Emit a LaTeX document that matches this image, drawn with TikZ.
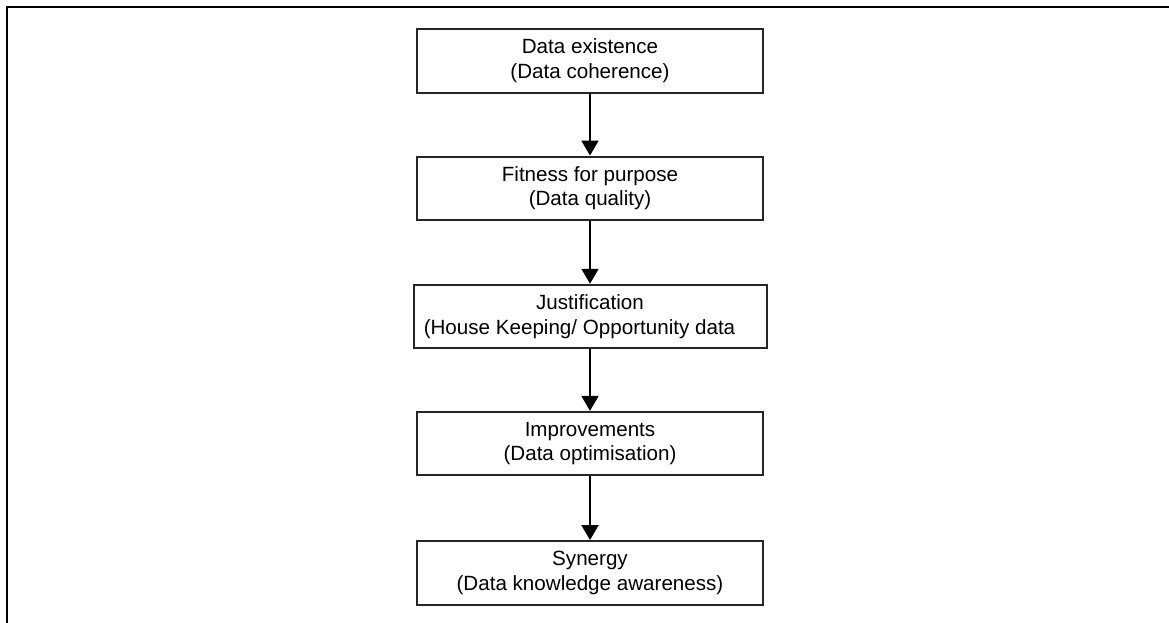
\documentclass[tikz,border=0pt]{standalone}
\usepackage{fontspec}
\setmainfont{Liberation Sans}
\usetikzlibrary{arrows.meta}
\begin{document}
\begin{tikzpicture}[x=1pt,y=-1pt,
  stage/.style={draw=black!85, line width=2pt, minimum width=346pt,
    minimum height=63.5pt, align=center, inner sep=0pt,
    font=\fontsize{20.6}{24.5}\selectfont},
  flow/.style={line width=2pt, -{Triangle[length=15pt,width=17pt]}}]
\useasboundingbox (0,0) rectangle (1169,623);
% open frame: left and top edges only
\draw[line width=2.2pt] (7,623) -- (7,7) -- (1169,7);
% the five stages
\node[stage] (s1) at (590,60.8) {Data existence\\(Data coherence)};
\node[stage] (s2) at (590,188.3) {Fitness for purpose\\(Data quality)};
\node[stage, minimum width=353pt] (s3) at (590,316.5)
  {Justification\\(House Keeping/ Opportunity data\hspace*{21pt}};
\node[stage] (s4) at (590,443.6) {Improvements\\(Data optimisation)};
\node[stage] (s5) at (590,572.8) {Synergy\\(Data knowledge awareness)};
% connectors
\draw[flow] (s1) -- (s2);
\draw[flow] (s2) -- (s3);
\draw[flow] (s3) -- (s4);
\draw[flow] (s4) -- (s5);
\end{tikzpicture}
\end{document}
